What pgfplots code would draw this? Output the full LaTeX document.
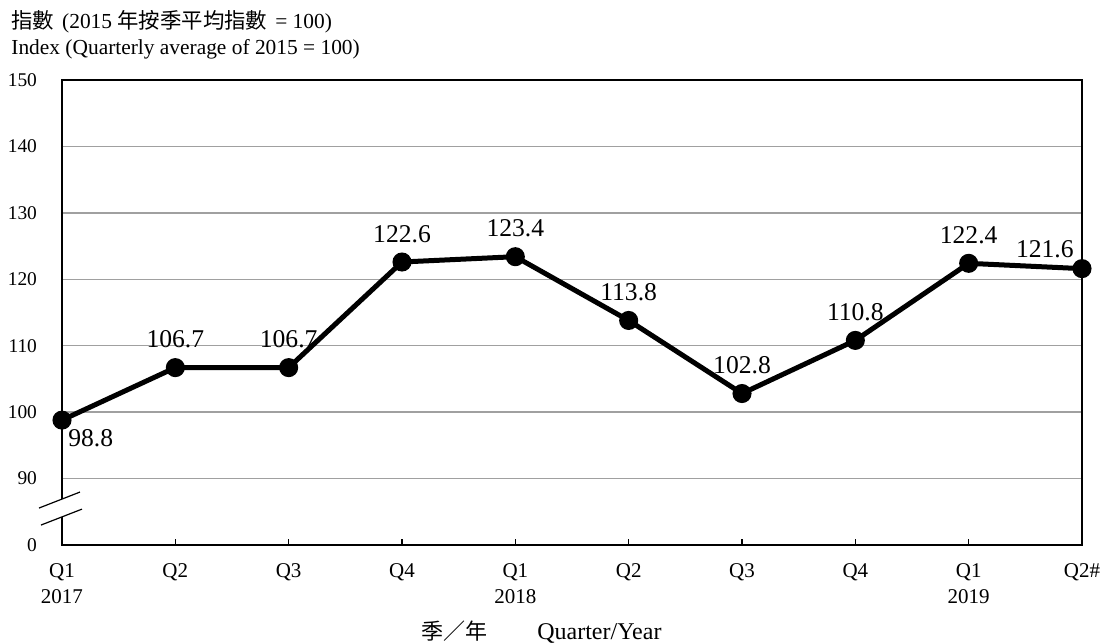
\documentclass[border=0pt]{standalone}
\usepackage{fontspec}
\setmainfont{Liberation Serif}
\newfontfamily\cjk{Noto Sans CJK TC}
\usepackage{pgfplots}
\pgfplotsset{compat=1.18}
\definecolor{gridgray}{RGB}{160,160,160}
\begin{document}
\begin{tikzpicture}
\begin{axis}[
  scale only axis,
  width=510pt, height=232.5pt,
  xmin=0, xmax=9, ymin=80, ymax=150,
  clip=false,
  axis line style={line width=0.75pt},
  xtick={0,...,9},
  xticklabels={Q1\\2017,Q2,Q3,Q4,Q1\\2018,Q2,Q3,Q4,Q1\\2019,Q2\#},
  xticklabel style={align=center, font=\fontsize{10.5}{13}\selectfont, yshift=-6pt},
  xtick pos=bottom,
  xtick align=inside,
  major tick length=3pt,
  tick style={line width=0.75pt, black},
  ytick={80,90,...,150},
  yticklabels={0,90,100,110,120,130,140,150},
  yticklabel style={font=\fontsize{9.7}{11}\selectfont, xshift=-9pt},
  ytick style={draw=none},
  ymajorgrids,
  major grid style={gridgray, line width=0.75pt},
  /pgf/number format/assume math mode=true,
  lbl/.style={draw=none, mark=none, nodes near coords,
    nodes near coords={\pgfmathprintnumber[fixed,fixed zerofill,precision=1]{\pgfplotspointmeta}},
    every node near coord/.append style={font=\fontsize{12.8}{15}\selectfont, inner sep=2pt, black}},
]
\addplot[line width=2.5pt, black, mark=*, mark size=3.5pt] coordinates {
(0,98.8) (1,106.7) (2,106.7) (3,122.6) (4,123.4) (5,113.8) (6,102.8) (7,110.8) (8,122.4) (9,121.6)};
\addplot[lbl, every node near coord/.append style={anchor=south, yshift=7.5pt}] coordinates {
(1,106.7) (2,106.7) (3,122.6) (4,123.4) (5,113.8) (6,102.8) (7,110.8) (8,122.4)};
\addplot[lbl, every node near coord/.append style={anchor=north west, xshift=1pt, yshift=-2.5pt}] coordinates {(0,98.8)};
\addplot[lbl, every node near coord/.append style={anchor=south east, xshift=-2pt, yshift=3pt}] coordinates {(9,121.6)};
\coordinate (b1) at (axis cs:0,84.2);
\coordinate (b2) at (axis cs:0,86.9);
\coordinate (u1) at (axis cs:0,85.56);
\coordinate (u2) at (axis cs:0,87.97);
\coordinate (l1) at (axis cs:0,83.0);
\coordinate (l2) at (axis cs:0,85.4);
\coordinate (sw) at (rel axis cs:0,0);
\coordinate (ne) at (rel axis cs:1,1);
\coordinate (nw) at (rel axis cs:0,1);
\coordinate (xl) at (rel axis cs:0.47,0);
\end{axis}
\fill[white] ([xshift=-1pt]b1) rectangle ([xshift=1pt]b2);
\draw[line width=0.6pt] ([xshift=-11.5pt]u1) -- ([xshift=9pt]u2);
\draw[line width=0.6pt] ([xshift=-10.5pt]l1) -- ([xshift=10pt]l2);
\node[anchor=base west, inner sep=0pt, font=\fontsize{10.7}{12}\selectfont] at ([shift={(-25.5pt,25.5pt)}]nw) {{\cjk 指數}\hspace{4pt}(2015 {\cjk 年按季平均指數}\hspace{4pt}= 100)};
\node[anchor=base west, inner sep=0pt, font=\fontsize{10.7}{12}\selectfont] at ([shift={(-25.5pt,12.5pt)}]nw) {Index (Quarterly average of 2015 = 100)};
\node[anchor=base, inner sep=0pt, font=\fontsize{12}{14}\selectfont] at ([yshift=-47.5pt]xl) {{\cjk\fontsize{11}{13}\selectfont 季／年}\hspace{25pt}Quarter/Year};
\pgfresetboundingbox
\path ([shift={(-31pt,-49.5pt)}]sw) rectangle ([shift={(10pt,40pt)}]ne);
\end{tikzpicture}
\end{document}
